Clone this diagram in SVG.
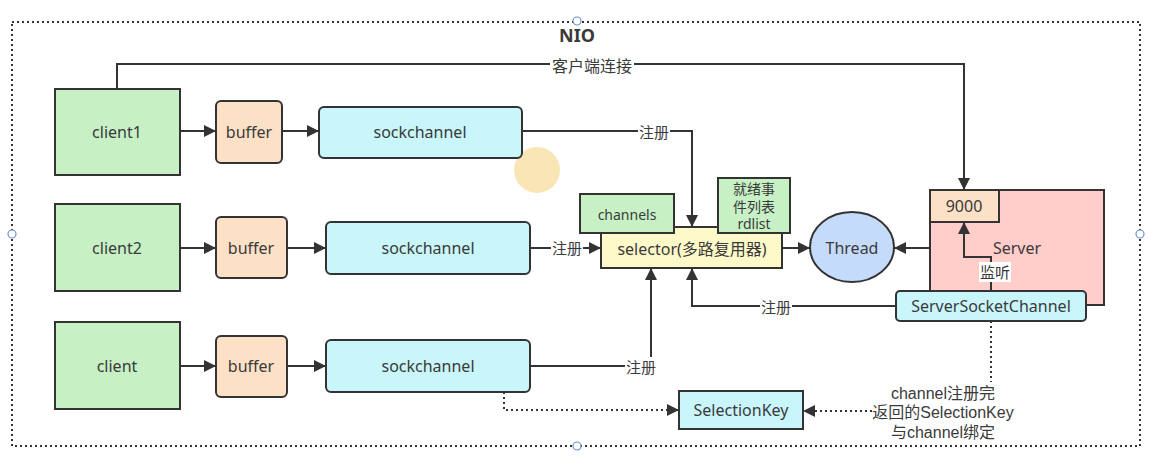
<svg xmlns="http://www.w3.org/2000/svg" width="1154" height="469" viewBox="0 0 1154 469">
<defs>
<marker id="arr" markerUnits="userSpaceOnUse" markerWidth="13" markerHeight="13" viewBox="0 0 13 13" refX="12" refY="6.5" orient="auto">
<path d="M0,0.5 L12,6.5 L0,12.5 Z" fill="#333"/>
</marker>
<style>
text{font-family:"Noto Sans","Noto Sans CJK SC",sans-serif;fill:#3a3a3a;font-size:16px;text-anchor:middle;dominant-baseline:central}
.box{stroke:#333;stroke-width:2}
.green{fill:#c7f1c5}
.buf{fill:#fde1c6}
.cyan{fill:#c9f6fb}
.conn{fill:none;stroke:#333;stroke-width:2}
.dot{fill:none;stroke:#333;stroke-width:2;stroke-dasharray:2 3}
.lbl{fill:#fff}
.sm{font-size:15px}
.note{font-family:"Liberation Sans","Noto Sans CJK SC",sans-serif;font-size:16px}
.handle{fill:#fff;stroke:#6a8fcf;stroke-width:1.2}
</style>
</defs>
<rect width="1154" height="469" fill="#fff"/>
<g id="container">
<rect x="12" y="22" width="1128" height="424" fill="none" stroke="#333" stroke-width="2" stroke-dasharray="2 3"/>
<text x="577" y="35" style="font-size:18px;font-weight:bold">NIO</text>
</g>
<g id="cursor"><circle cx="537" cy="170" r="23" fill="#f8d98c" opacity="0.65"/></g>
<g id="client1"><rect class="box green" x="55" y="89" width="125" height="86"/><text x="117" y="132">client1</text></g>
<g id="buffer1"><rect class="box buf" x="216" y="101" width="66" height="62" rx="5"/><text x="249" y="132">buffer</text></g>
<g id="sockchannel1"><rect class="box cyan" x="319" y="107" width="203" height="51" rx="5"/><text x="420" y="132">sockchannel</text></g>
<g id="client2"><rect class="box green" x="55" y="204" width="125" height="87"/><text x="117" y="248">client2</text></g>
<g id="buffer2"><rect class="box buf" x="216" y="217" width="71" height="61" rx="5"/><text x="251" y="248">buffer</text></g>
<g id="sockchannel2"><rect class="box cyan" x="326" y="222" width="204" height="52" rx="5"/><text x="428" y="248">sockchannel</text></g>
<g id="client"><rect class="box green" x="55" y="322" width="125" height="87"/><text x="117" y="366">client</text></g>
<g id="buffer3"><rect class="box buf" x="216" y="336" width="71" height="61" rx="5"/><text x="251" y="366">buffer</text></g>
<g id="sockchannel3"><rect class="box cyan" x="326" y="340" width="204" height="52" rx="5"/><text x="428" y="366">sockchannel</text></g>
<g id="selector"><rect class="box" fill="#fdf9c8" x="601" y="227" width="181" height="41"/><text x="692" y="249">selector(多路复用器)</text></g>
<g id="channels"><rect class="box green" x="580" y="194" width="94" height="39"/><text x="627" y="214" style="font-size:14px">channels</text></g>
<g id="rdlist"><rect class="box green" x="718" y="178" width="72" height="55"/><text x="754" y="188" style="font-size:14px">就绪事</text><text x="754" y="206" style="font-size:14px">件列表</text><text x="754" y="223" style="font-size:14px">rdlist</text></g>
<g id="thread"><ellipse class="box" fill="#c5dbfb" cx="852" cy="247" rx="42" ry="35"/><text x="852" y="248">Thread</text></g>
<g id="server"><rect class="box" fill="#ffcdca" x="930" y="190" width="174" height="115"/><text x="1017" y="248">Server</text></g>
<g id="port9000"><rect class="box buf" x="930" y="190" width="69" height="32"/><text x="964" y="206">9000</text></g>
<g id="serversocketchannel"><rect class="box cyan" x="896" y="291" width="190" height="30" rx="4"/><text x="991" y="306">ServerSocketChannel</text></g>
<g id="selectionkey"><rect class="box cyan" x="679" y="391" width="124" height="38"/><text x="741" y="410">SelectionKey</text></g>
<g id="connectors">
<path class="conn" d="M180,131 H216" marker-end="url(#arr)"/>
<path class="conn" d="M282,131 H319" marker-end="url(#arr)"/>
<path class="conn" d="M180,248 H216" marker-end="url(#arr)"/>
<path class="conn" d="M287,248 H326" marker-end="url(#arr)"/>
<path class="conn" d="M180,366 H216" marker-end="url(#arr)"/>
<path class="conn" d="M287,366 H326" marker-end="url(#arr)"/>
<path class="conn" d="M117,89 V64 H964 V190" marker-end="url(#arr)"/>
<path class="conn" d="M522,131 H692 V227" marker-end="url(#arr)"/>
<path class="conn" d="M530,248 H601" marker-end="url(#arr)"/>
<path class="conn" d="M530,366 H651 V268" marker-end="url(#arr)"/>
<path class="conn" d="M896,306 H692 V268" marker-end="url(#arr)"/>
<path class="conn" d="M782,248 H810" marker-end="url(#arr)"/>
<path class="conn" d="M930,248 H894" marker-end="url(#arr)"/>
<path class="conn" d="M991,291 V257 H964 V222" marker-end="url(#arr)"/>
<path class="dot" d="M504,392 V410 H679" marker-end="url(#arr)"/>
<path class="dot" d="M991,321 V382"/>
<path class="dot" d="M872,411 H803" marker-end="url(#arr)"/>
<rect class="lbl" x="550" y="56" width="84" height="18"/><text x="592" y="66">客户端连接</text>
<rect class="lbl" x="638" y="122" width="32" height="18"/><text class="sm" x="654" y="132">注册</text>
<rect class="lbl" x="551" y="239" width="32" height="18"/><text class="sm" x="567" y="248">注册</text>
<rect class="lbl" x="625" y="357" width="32" height="18"/><text class="sm" x="641" y="367">注册</text>
<rect class="lbl" x="760" y="297" width="32" height="18"/><text class="sm" x="776" y="307">注册</text>
<rect class="lbl" x="979" y="262" width="32" height="20"/><text class="sm" x="995" y="272">监听</text>
<text class="note" x="943" y="393">channel注册完</text>
<text class="note" x="943" y="412">返回的SelectionKey</text>
<text class="note" x="943" y="432">与channel绑定</text>
</g>
<g id="handles">
<circle class="handle" cx="577" cy="21" r="4"/>
<circle class="handle" cx="577" cy="446" r="4"/>
<circle class="handle" cx="12" cy="234" r="4"/>
<circle class="handle" cx="1140" cy="234" r="4"/>
</g>
</svg>
